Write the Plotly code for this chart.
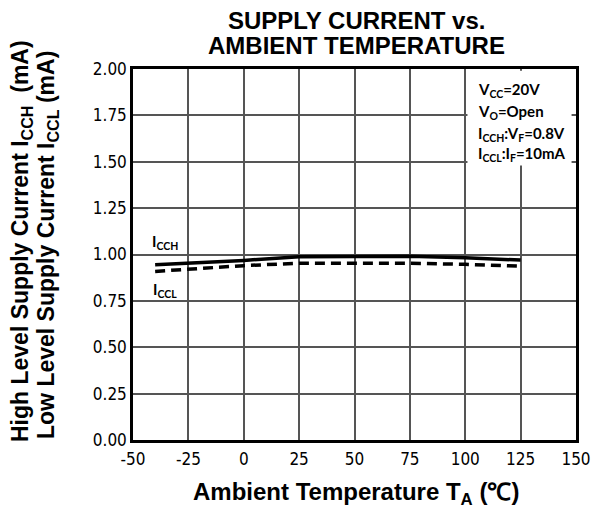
import plotly.graph_objects as go

# Data
temps = [-40, -25, 0, 25, 50, 75, 100, 125]
icch = [0.945, 0.954, 0.968, 0.988, 0.99, 0.99, 0.982, 0.97]
iccl = [0.909, 0.92, 0.94, 0.953, 0.955, 0.953, 0.947, 0.937]

x_ticks = [-50, -25, 0, 25, 50, 75, 100, 125, 150]
x_tick_text = ["-50", "-25", "0", "25", "50", "75", "100", "125", "150"]
y_ticks = [0.0, 0.25, 0.5, 0.75, 1.0, 1.25, 1.5, 1.75, 2.0]
y_tick_text = ["0.00", "0.25", "0.50", "0.75", "1.00", "1.25", "1.50", "1.75", "2.00"]

cond_lines = [
    "V<sub>CC</sub>=20V",
    "V<sub>O</sub>=Open",
    "I<sub>CCH</sub>:V<sub>F</sub>=0.8V",
    "I<sub>CCL</sub>:I<sub>F</sub>=10mA",
]
cond_y = [1.887, 1.768, 1.650, 1.542]

tick_font = dict(family="DejaVu Sans Condensed, Liberation Sans Narrow, Arial Narrow, Liberation Sans", size=17, color="black")
bold_font = "Liberation Sans, Arial, sans-serif"
cal_font = "Lato, Carlito, Calibri, sans-serif"

# The page body has an 8px margin; figure sized so it fills the 603x510 window
OFF = 8
W, H = 603 - OFF, 510 - OFF
# plot area in page pixels: x 133..576, y 69..440
L, R, T, B = 133 - OFF, 603 - 576, 69 - OFF, 510 - 440

fig = go.Figure()
fig.add_trace(go.Scatter(x=temps, y=icch, mode="lines", line=dict(color="black", width=3.5), showlegend=False))
fig.add_trace(go.Scatter(x=temps, y=iccl, mode="lines", line=dict(color="black", width=3.5, dash="10px,6px"), showlegend=False))

fig.update_layout(
    width=W, height=H,
    margin=dict(l=L, r=R, t=T, b=B, autoexpand=False),
    paper_bgcolor="white", plot_bgcolor="white",
    xaxis=dict(range=[-50, 150], tickvals=x_ticks, ticktext=x_tick_text, ticks="", tickfont=tick_font,
               automargin=False, ticklabelstandoff=2,
               showgrid=True, gridcolor="#555", gridwidth=1.5, zeroline=False,
               showline=True, linecolor="black", linewidth=2.5, mirror=True),
    yaxis=dict(range=[0, 2.0], tickvals=y_ticks, ticktext=y_tick_text, ticks="", tickfont=tick_font,
               automargin=False,
               showgrid=True, gridcolor="#555", gridwidth=1.5, zeroline=False,
               showline=True, linecolor="black", linewidth=2.5, mirror=True),
)


def px_x(px):
    # px in page pixels
    return (px - OFF - L) / (W - L - R)


def px_y(py):
    return (H - B - (py - OFF)) / (H - T - B)


# white box behind conditions
fig.add_shape(type="rect", xref="x", yref="y", x0=101, x1=148, y0=1.48, y1=1.99,
              fillcolor="white", line=dict(width=0), layer="between")

for t, yv in zip(cond_lines, cond_y):
    fig.add_annotation(x=105.0, y=yv, xref="x", yref="y", text="<b>" + t + "</b>", showarrow=False,
                       xanchor="left", yanchor="middle", font=dict(family=cal_font, size=15, color="black"))

fig.add_annotation(x=-35.6, y=1.069, xref="x", yref="y", text="<b>I<sub>CCH</sub></b>", showarrow=False,
                   xanchor="center", yanchor="middle", font=dict(family=cal_font, size=15, color="black"))
fig.add_annotation(x=-35.6, y=0.81, xref="x", yref="y", text="<b>I<sub>CCL</sub></b>", showarrow=False,
                   xanchor="center", yanchor="middle", font=dict(family=cal_font, size=15, color="black"))

# Title
fig.add_annotation(x=px_x(356), y=px_y(20), xref="paper", yref="paper", text="<b>SUPPLY CURRENT vs.</b>",
                   showarrow=False, xanchor="center", yanchor="middle",
                   font=dict(family=bold_font, size=24, color="black"))
fig.add_annotation(x=px_x(356), y=px_y(46), xref="paper", yref="paper", text="<b>AMBIENT TEMPERATURE</b>",
                   showarrow=False, xanchor="center", yanchor="middle",
                   font=dict(family=bold_font, size=24, color="black"))

fig.add_annotation(x=px_x(356), y=px_y(493), xref="paper", yref="paper",
                   text="<b>Ambient Temperature T<sub>A</sub> (℃)</b>", showarrow=False,
                   xanchor="center", yanchor="middle",
                   font=dict(family=bold_font, size=24, color="black"))
fig.add_annotation(x=px_x(21), y=px_y(241), xref="paper", yref="paper", textangle=-90,
                   text="<b>High Level Supply Current I<sub>CCH</sub>  (mA)</b>", showarrow=False,
                   xanchor="center", yanchor="middle",
                   font=dict(family=bold_font, size=23, color="black"))
fig.add_annotation(x=px_x(47), y=px_y(245), xref="paper", yref="paper", textangle=-90,
                   text="<b>Low Level Supply Current I<sub>CCL</sub> (mA)</b>", showarrow=False,
                   xanchor="center", yanchor="middle",
                   font=dict(family=bold_font, size=23, color="black"))

fig.write_html("out.html")
